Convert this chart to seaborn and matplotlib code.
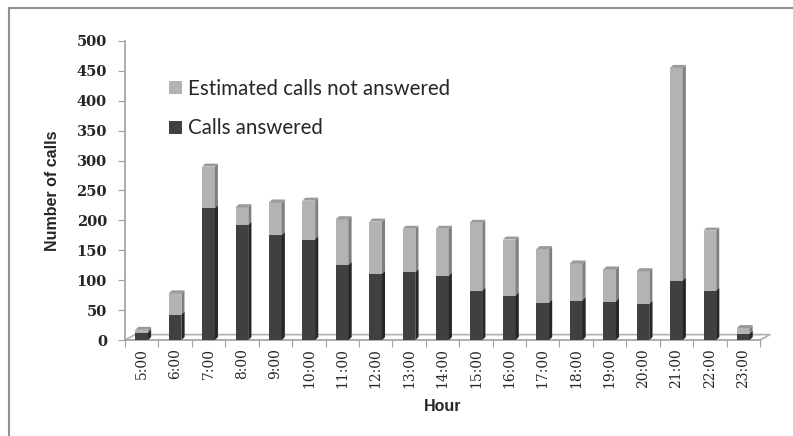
import matplotlib
matplotlib.use("Agg")
import matplotlib.pyplot as plt
from matplotlib.patches import Polygon
from matplotlib.lines import Line2D
import seaborn as sns
import pandas as pd

hours = ["5:00", "6:00", "7:00", "8:00", "9:00", "10:00", "11:00", "12:00",
         "13:00", "14:00", "15:00", "16:00", "17:00", "18:00", "19:00",
         "20:00", "21:00", "22:00", "23:00"]
answered = [12, 42, 220, 192, 175, 168, 125, 110, 113, 107, 82, 74, 62, 66,
            64, 60, 99, 82, 10]
not_answered = [5, 36, 70, 30, 55, 65, 77, 88, 73, 79, 114, 94, 90, 62,
                54, 55, 356, 101, 10]

df = pd.DataFrame({"hour": hours, "answered": answered,
                   "not_answered": not_answered})
df["total"] = df["answered"] + df["not_answered"]

sns.set_style("white")
fig = plt.figure(figsize=(7.93, 4.36), dpi=100)
ax = fig.add_axes([125 / 793, 96 / 436, 635 / 793, 299 / 436])

light, light_side, light_top = "#b3b3b3", "#7f7f7f", "#9a9a9a"
dark, dark_side = "#404040", "#262626"

sns.barplot(data=df, x="hour", y="total", order=hours, color=light,
            width=0.38, saturation=1, ax=ax,
            label="Estimated calls not answered", zorder=2)
n = len(hours)
sns.barplot(data=df, x="hour", y="answered", order=hours, color=dark,
            width=0.38, saturation=1, ax=ax, label="Calls answered", zorder=3)

# fake 3D depth taken from the bar geometry
dx, dy = 0.09, 5
for i, p in enumerate(ax.patches):
    x, y = p.get_x(), p.get_y()
    w, h = p.get_width(), p.get_height()
    p.set_linewidth(0)
    is_light = i < n
    side = Polygon([(x + w, y), (x + w + dx, y + dy), (x + w + dx, y + h + dy),
                    (x + w, y + h)], closed=True, lw=0,
                   color=light_side if is_light else dark_side,
                   zorder=2.5 if is_light else 3.5)
    ax.add_patch(side)
    if is_light:
        top = Polygon([(x, y + h), (x + dx, y + h + dy),
                       (x + w + dx, y + h + dy), (x + w, y + h)],
                      closed=True, lw=0, color=light_top, zorder=2.5)
        ax.add_patch(top)

# floor edge of the 3D chart
ax.plot([-0.5, -0.2, n - 0.2, n - 0.5], [0, 9, 9, 0], color="#b0b0b0",
        lw=1.2, clip_on=False, zorder=1)

ax.set_xlim(-0.5, n - 0.5)
ax.set_ylim(0, 500)
ax.set_yticks(range(0, 501, 50))
ax.set_yticklabels([str(v) for v in range(0, 501, 50)],
                   family="DejaVu Serif", fontweight="bold", fontsize=10.5)
ax.set_xticks([i - 0.5 for i in range(n + 1)], minor=False)
ax.set_xticklabels([""] * (n + 1))
ax.set_xticks(range(n), minor=True)
ax.set_xticklabels(hours, minor=True, rotation=90,
                   family="DejaVu Serif", fontsize=10)
ax.tick_params(axis="x", which="minor", length=0, pad=6)
ax.tick_params(axis="x", which="major", length=5, color="#a0a0a0",
               direction="out")
ax.tick_params(axis="y", length=5, color="#a0a0a0", direction="out", pad=8)
ax.tick_params(axis="both", bottom=True, left=True)
ax.tick_params(axis="x", which="minor", bottom=False)

for s in ["top", "right"]:
    ax.spines[s].set_visible(False)
for s in ["left", "bottom"]:
    ax.spines[s].set_color("#a0a0a0")
    ax.spines[s].set_linewidth(1.2)

ax.set_xlabel("Hour", family="Liberation Sans", fontweight="bold",
              fontsize=11.5, labelpad=8)
ax.set_ylabel("Number of calls", family="Liberation Sans",
              fontweight="bold", fontsize=11.5, labelpad=12)

handles, labels = ax.get_legend_handles_labels()
ax.legend(handles, labels, loc="upper left", bbox_to_anchor=(0.04, 0.935),
          frameon=False, prop={"family": "Lato", "size": 14.8},
          handlelength=0.62, handleheight=0.62, handletextpad=0.3,
          labelspacing=0.95)

# outer frame of the chart
fig.add_artist(Line2D([9 / 793, 9 / 793], [0, 1 - 8 / 436],
                      transform=fig.transFigure, color="#909090", lw=1.5))
fig.add_artist(Line2D([9 / 793, 1], [1 - 8 / 436, 1 - 8 / 436],
                      transform=fig.transFigure, color="#909090", lw=1.5))

fig.savefig("out.png", dpi=100)
